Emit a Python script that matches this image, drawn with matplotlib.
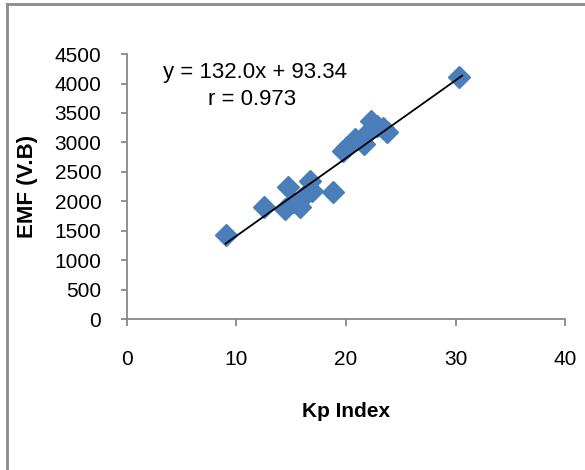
import matplotlib.pyplot as plt
from matplotlib.lines import Line2D
import numpy as np

plt.rcParams['font.family'] = ['Liberation Sans', 'DejaVu Sans']

# Kp index vs EMF readings
kp = [9.0, 12.5, 14.7, 14.4, 15.2, 15.8, 16.1, 16.7, 16.9, 18.8,
      19.7, 20.1, 20.8, 21.6, 21.6, 22.3, 22.8, 23.4, 23.7, 30.3]
emf = [1420, 1910, 2240, 1870, 1985, 1900, 2070, 2350, 2180, 2166,
       2860, 2916, 3054, 3113, 2973, 3367, 3283, 3253, 3170, 4112]

slope = 132.0
intercept = 93.34
r_value = 0.973

xticks = [0, 10, 20, 30, 40]
yticks = list(range(0, 4501, 500))

fig = plt.figure(figsize=(5.85, 4.70), dpi=100)
ax = fig.add_axes([0.217, 0.321, 0.749, 0.564])

blue = '#4a7ebb'
ax.plot(kp, emf, ls='none', marker='D', ms=11.5, color=blue, mec=blue)

xs = np.array([min(kp), max(kp) + 0.3])
ax.plot(xs, slope * xs + intercept, color='black', lw=1.3)

ax.set_xlim(0, 40)
ax.set_ylim(0, 4500)
ax.set_xticks(xticks)
ax.set_yticks(yticks)

for s in ['top', 'right']:
    ax.spines[s].set_visible(False)
for s in ['left', 'bottom']:
    ax.spines[s].set_color('#888888')
    ax.spines[s].set_linewidth(1.3)
ax.tick_params(direction='out', width=1.3, color='#888888',
               labelsize=15, labelcolor='black')
ax.tick_params(axis='x', length=5, pad=17)
ax.tick_params(axis='y', length=4, pad=14.5)

ax.set_xlabel('Kp Index', fontsize=15, fontweight='bold', labelpad=24)
ax.set_ylabel('EMF (V.B)', fontsize=16, fontweight='bold', labelpad=12)

ax.text(0.292, 0.909, 'y = %.1fx + %.2f' % (slope, intercept),
        transform=ax.transAxes, ha='center', va='baseline', fontsize=16)
ax.text(0.286, 0.808, 'r = %.3f' % r_value,
        transform=ax.transAxes, ha='center', va='baseline', fontsize=16)

# outer frame, only left and top edges fall inside the picture
fig.add_artist(Line2D([7/585, 7/585], [0, 1 - 4/470], transform=fig.transFigure,
                      color='#8c8c8c', lw=2))
fig.add_artist(Line2D([7/585, 1], [1 - 4/470, 1 - 4/470], transform=fig.transFigure,
                      color='#8c8c8c', lw=2))

fig.savefig('out.png', dpi=100)
